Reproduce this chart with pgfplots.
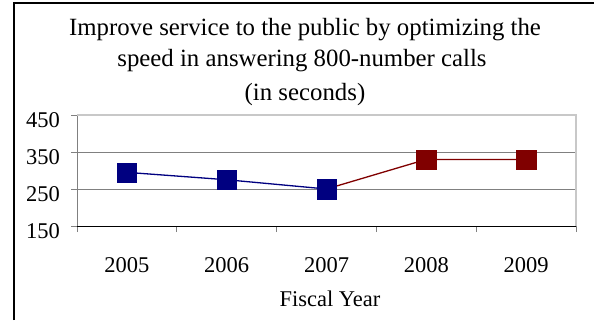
\documentclass[border=0pt]{standalone}
\usepackage{pgfplots}
\pgfplotsset{compat=1.18}
\usepackage{fontspec}
\setmainfont{Liberation Serif}
\definecolor{navyc}{RGB}{0,0,128}
\definecolor{maroonc}{RGB}{128,0,0}
\definecolor{gridc}{RGB}{128,128,128}
\definecolor{borderc}{RGB}{200,200,200}
\begin{document}
\fontsize{22.5bp}{27bp}\selectfont
\begin{tikzpicture}[x=1bp,y=1bp]
\path[use as bounding box] (0,0) rectangle (594,320);
\draw[black, line width=2.5bp] (14,0) -- (14,317) -- (594,317);
\begin{scope}[every node/.style={anchor=base, inner sep=0pt, font=\fontsize{24.8bp}{30bp}\selectfont}]
\node at (305,285) {Improve service to the public by optimizing the};
\node at (302,254) {speed in answering 800-number calls};
\node at (305,220) {(in seconds)};
\end{scope}
\begin{axis}[
  at={(77bp,94bp)}, anchor=south west,
  scale only axis, width=499bp, height=111bp,
  xmin=-0.5, xmax=4.5, ymin=150, ymax=450,
  ytick={150,250,350,450}, yticklabels={150,250,350,450},
  xtick={-0.5,0.5,...,4.5},
  x tick label as interval,
  xticklabels={2005,2006,2007,2008,2009},
  axis x line*=bottom, axis y line*=left,
  x axis line style={black, line width=1bp},
  y axis line style={gridc, line width=1bp},
  tick align=outside, major tick length=6bp,
  xtick style={gridc, line width=1bp},
  ytick style={gridc, line width=1bp},
  ymajorgrids, grid style={gridc, line width=0.8bp},
  yticklabel style={anchor=base east, inner sep=0pt, xshift=-11bp, yshift=-12.5bp},
  xticklabel style={anchor=base, inner sep=0pt, yshift=-40bp},
  clip=false,
]
\addplot[maroonc, line width=1.3bp, mark=square*, mark size=9.7bp, mark indices={2,3},
  mark options={solid, fill=maroonc, draw=maroonc, line width=0.3bp}]
  coordinates {(2,250) (3,330) (4,330)};
\addplot[navyc, line width=1.3bp, mark=square*, mark size=9.7bp,
  mark options={solid, fill=navyc, draw=navyc, line width=0.3bp}]
  coordinates {(0,295) (1,275) (2,250)};
\draw[borderc, line width=1.2bp] (rel axis cs:0,1) -- (rel axis cs:1,1) -- (rel axis cs:1,0);
\end{axis}
\node[anchor=base, inner sep=0pt] at (330,14) {Fiscal Year};
\end{tikzpicture}
\end{document}
